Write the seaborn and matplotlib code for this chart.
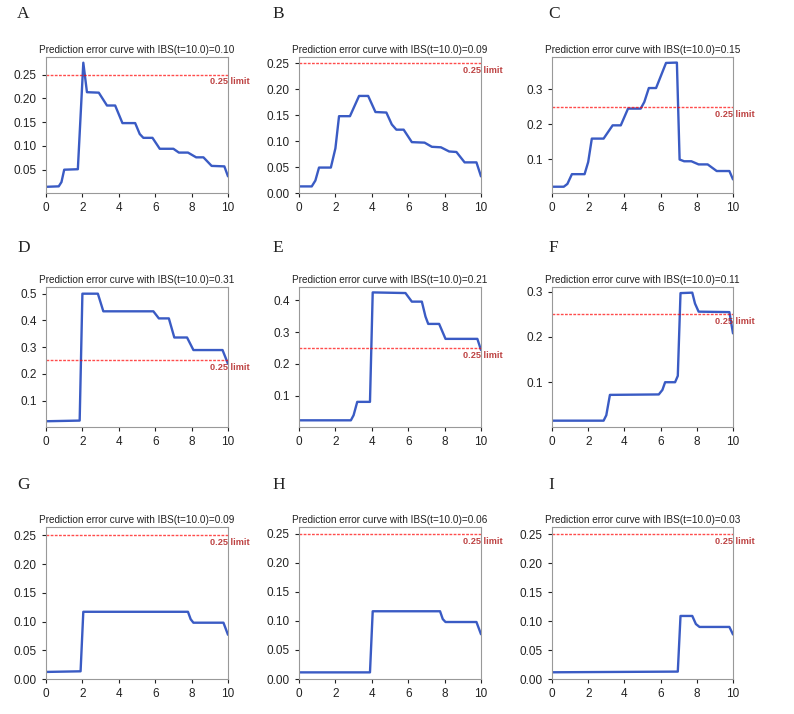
import numpy as np
import pandas as pd
import matplotlib
matplotlib.use('Agg')
import matplotlib.pyplot as plt
from matplotlib.ticker import MultipleLocator
import seaborn as sns

# curves (time, prediction error)
a_t = [0, 0.7, 0.85, 1.0, 1.75, 2.05, 2.25, 2.9, 3.35, 3.8, 4.2, 4.9, 5.15, 5.35, 5.85, 6.25, 7.0, 7.3, 7.8, 8.25, 8.65, 9.1, 9.8, 10]
a_err = [0.014, 0.015, 0.024, 0.05, 0.051, 0.275, 0.213, 0.212, 0.185, 0.185, 0.148, 0.148, 0.125, 0.117, 0.117, 0.094, 0.094, 0.086, 0.086, 0.076, 0.076, 0.058, 0.057, 0.036]

b_t = [0, 0.7, 0.9, 1.1, 1.75, 2.0, 2.2, 2.8, 3.3, 3.8, 4.2, 4.8, 5.1, 5.35, 5.75, 6.2, 6.9, 7.3, 7.8, 8.25, 8.65, 9.1, 9.75, 10]
b_err = [0.0127, 0.0127, 0.024, 0.049, 0.049, 0.086, 0.148, 0.148, 0.187, 0.187, 0.156, 0.155, 0.132, 0.122, 0.122, 0.098, 0.097, 0.089, 0.088, 0.080, 0.079, 0.059, 0.059, 0.032]

c_t = [0, 0.65, 0.85, 1.1, 1.8, 2.0, 2.2, 2.85, 3.35, 3.8, 4.2, 4.9, 5.1, 5.35, 5.75, 6.3, 6.9, 7.05, 7.3, 7.7, 8.1, 8.6, 9.1, 9.8, 10]
c_err = [0.021, 0.021, 0.029, 0.057, 0.057, 0.092, 0.159, 0.159, 0.197, 0.197, 0.245, 0.245, 0.264, 0.304, 0.304, 0.376, 0.377, 0.099, 0.094, 0.094, 0.085, 0.085, 0.066, 0.066, 0.042]

d_t = [0, 1.85, 2.0, 2.85, 3.15, 5.9, 6.2, 6.75, 7.05, 7.75, 8.1, 9.7, 10]
d_err = [0.0225, 0.025, 0.5, 0.5, 0.434, 0.434, 0.4075, 0.4075, 0.336, 0.336, 0.289, 0.289, 0.2375]

e_t = [0, 2.85, 3.0, 3.2, 3.9, 4.05, 5.85, 6.2, 6.75, 6.95, 7.1, 7.7, 8.05, 9.8, 10]
e_err = [0.023, 0.023, 0.039, 0.081, 0.081, 0.425, 0.423, 0.396, 0.396, 0.349, 0.326, 0.326, 0.279, 0.279, 0.244]

f_t = [0, 2.85, 3.0, 3.2, 5.9, 6.1, 6.25, 6.8, 6.95, 7.1, 7.75, 7.9, 8.1, 9.8, 10]
f_err = [0.015, 0.015, 0.027, 0.072, 0.073, 0.083, 0.100, 0.100, 0.114, 0.297, 0.298, 0.274, 0.256, 0.255, 0.208]

g_t = [0, 1.9, 2.05, 7.8, 7.95, 8.1, 9.75, 10]
g_err = [0.0123, 0.0134, 0.117, 0.117, 0.104, 0.098, 0.098, 0.077]

h_t = [0, 3.9, 4.05, 7.75, 7.9, 8.05, 9.75, 10]
h_err = [0.0114, 0.0114, 0.1165, 0.1165, 0.103, 0.098, 0.098, 0.077]

i_t = [0, 6.95, 7.1, 7.75, 7.95, 8.15, 9.8, 10]
i_err = [0.0116, 0.0128, 0.109, 0.109, 0.095, 0.090, 0.090, 0.077]

letters = ['A', 'B', 'C', 'D', 'E', 'F', 'G', 'H', 'I']
ibs = ['0.10', '0.09', '0.15', '0.31', '0.21', '0.11', '0.09', '0.06', '0.03']
ylims = [(0.001, 0.287), (0.0, 0.262), (0.003, 0.393),
         (0.001, 0.525), (0.002, 0.442), (0.001, 0.3105),
         (0.0, 0.2646), (0.0, 0.2614), (0.0, 0.2628)]
ysteps = [0.05, 0.05, 0.1, 0.1, 0.1, 0.1, 0.05, 0.05, 0.05]
limit = 0.25

curves = [(a_t, a_err), (b_t, b_err), (c_t, c_err),
          (d_t, d_err), (e_t, e_err), (f_t, f_err),
          (g_t, g_err), (h_t, h_err), (i_t, i_err)]

sns.set_style('white')
plt.rcParams['font.family'] = ['Liberation Sans', 'DejaVu Sans']

W, H = 794, 714
fig = plt.figure(figsize=(W / 100, H / 100), dpi=100)

# axes boxes in pixels: (left, right) per column, (top, bottom) per row
cols = [(46, 228), (299, 481), (552, 733)]
rows = [(57, 193), (287, 427), (527, 679)]
letter_pos = [(17, 6), (272, 6), (548, 6),
              (17, 240), (272, 240), (548, 240),
              (17, 477), (272, 477), (548, 477)]

for k, (t, err) in enumerate(curves):
    l, r = cols[k % 3]
    top, bot = rows[k // 3]
    ax = fig.add_axes([l / W, 1 - bot / H, (r - l) / W, (bot - top) / H])
    df = pd.DataFrame({'time': t, 'error': err})
    sns.lineplot(data=df, x='time', y='error', ax=ax, color='#3a5bc4',
                 linewidth=1.7, estimator=None, sort=False)
    ax.axhline(limit, color='red', linestyle=(0, (2, 1)), linewidth=1.0, alpha=0.7)
    ax.text(9, limit - (ylims[k][1] - ylims[k][0]) * 0.02, '0.25 limit',
            color='#b22222', alpha=0.85, fontsize=6.6, fontweight='bold',
            va='top', ha='left', clip_on=False)
    ax.set_xlim(0, 10)
    ax.set_ylim(*ylims[k])
    ax.set_xticks([0, 2, 4, 6, 8, 10])
    ax.yaxis.set_major_locator(MultipleLocator(ysteps[k]))
    ax.set_xlabel('')
    ax.set_ylabel('')
    ax.set_title('Prediction error curve with IBS(t=10.0)=' + ibs[k],
                 fontsize=7.2, pad=3, color='#222222')
    ax.tick_params(axis='both', labelsize=8.5, length=3, width=0.8,
                   direction='out', left=True, bottom=True, colors='#222222')
    for s in ax.spines.values():
        s.set_color('#999999')
        s.set_linewidth(0.8)
    lx, ly = letter_pos[k]
    fig.text(lx / W, 1 - ly / H, letters[k], fontsize=12.5, va='top', ha='left',
             family='Liberation Serif', color='#222222')

fig.savefig('out.png', dpi=100, facecolor='white')
